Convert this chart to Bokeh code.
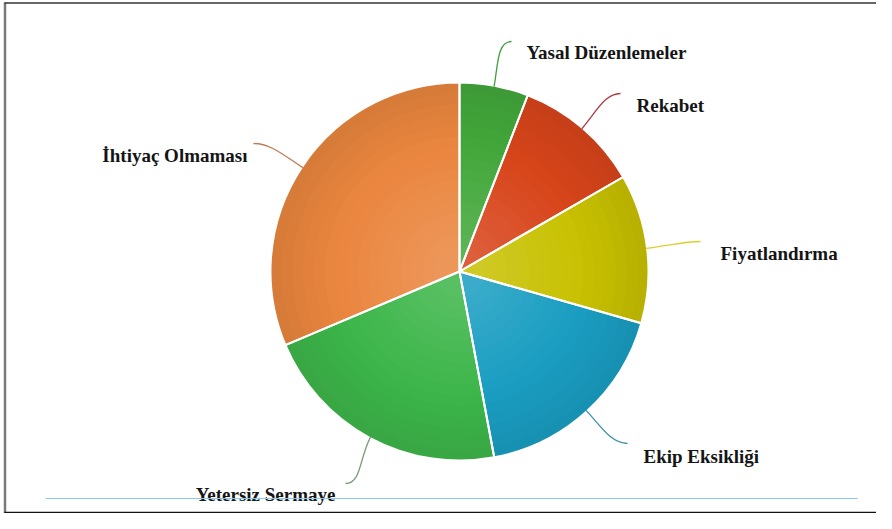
import math
from bokeh.plotting import figure
from bokeh.models import Range1d
from bokeh.core.properties import value
from bokeh.embed import file_html
from bokeh.resources import INLINE

# ---- data ----
categories = ["Yasal Düzenlemeler", "Rekabet", "Fiyatlandırma",
              "Ekip Eksikliği", "Yetersiz Sermaye", "İhtiyaç Olmaması"]
counts = [6, 11, 13, 18, 22, 32]

# ---- styles ----
base_colors = ["#43A83B", "#D8451B", "#C8C102", "#1A9EC2", "#3DB64A", "#EA863F"]
leader_colors = ["#3E9E3A", "#B03A40", "#D9D030", "#3A8FA8", "#7E9C7C", "#C07A50"]

W, H = 876, 513


def sy(y):
    """picture y (from top) -> data y"""
    return H - y


p = figure(width=W, height=H, x_range=Range1d(0, W), y_range=Range1d(0, H),
           output_backend="svg", toolbar_location=None, min_border=0,
           x_axis_location=None, y_axis_location=None, background_fill_color="white",
           border_fill_color="white", outline_line_color=None)
p.grid.visible = False

# layout of the pie (picture pixels)
CX, CY, R = 459, 271, 189


def shade(hexc, f):
    r, g, b = int(hexc[1:3], 16), int(hexc[3:5], 16), int(hexc[5:7], 16)
    if f >= 0:
        r, g, b = r + (255 - r) * f, g + (255 - g) * f, b + (255 - b) * f
    else:
        r, g, b = r * (1 + f), g * (1 + f), b * (1 + f)
    return "#%02x%02x%02x" % (int(r), int(g), int(b))


total = float(sum(counts))
cum = 0.0
starts, ends, mids = [], [], []
for c in counts:
    a0 = 360.0 * cum / total
    cum += c
    a1 = 360.0 * cum / total
    starts.append(math.radians(90 - a1))
    ends.append(math.radians(90 - a0))
    mids.append(math.radians(90 - (a0 + a1) / 2))

# radial shading: darker at rim, lighter toward centre
NL = 16
for k in range(NL):
    rr = R * (1 - k / NL * 0.92)
    t = k / (NL - 1)
    cols = [shade(c, -0.08 + 0.22 * t) for c in base_colors]
    p.wedge(x=[CX] * len(counts), y=[sy(CY)] * len(counts), radius=rr,
            start_angle=starts, end_angle=ends, direction="anticlock",
            fill_color=cols, line_color=None)

# white separators
p.wedge(x=[CX] * len(counts), y=[sy(CY)] * len(counts), radius=R,
        start_angle=starts, end_angle=ends, direction="anticlock",
        fill_color=None, line_color="white", line_width=2)

# leader lines (end points in picture pixels) and labels
leader_end = [(511, 41), (620, 93), (700, 241), (627, 443), (345, 483), (253, 143)]
label_pos = [(526, 52), (636, 105), (720, 253), (643, 456), (335, 494), (247, 155)]
label_align = ["left", "left", "left", "left", "right", "right"]

for i, m in enumerate(mids):
    sx0 = CX + (R - 1) * math.cos(m)
    sy0 = sy(CY) + (R - 1) * math.sin(m)
    ex, ey = leader_end[i][0], sy(leader_end[i][1])
    d = math.hypot(ex - sx0, ey - sy0)
    hdir = 1 if ex > CX else -1
    c0x = sx0 + math.cos(m) * d * 0.45
    c0y = sy0 + math.sin(m) * d * 0.45
    c1x = ex - hdir * d * 0.3
    c1y = ey
    p.bezier(x0=[sx0], y0=[sy0], x1=[ex], y1=[ey], cx0=[c0x], cy0=[c0y],
             cx1=[c1x], cy1=[c1y], line_color=leader_colors[i], line_width=1.3)

for i, name in enumerate(categories):
    p.text(x=[label_pos[i][0]], y=[sy(label_pos[i][1])], text=[name],
           text_font=value("Liberation Serif"), text_font_style="bold",
           text_font_size="19px", text_color="#151515",
           text_align=label_align[i], text_baseline="alphabetic")

# light blue rule under the chart
p.line(x=[45, 857], y=[sy(498), sy(498)], line_color="#86C8F0", line_width=1.2)

# frame
p.line(x=[4.5, 4.5], y=[sy(2), sy(513)], line_color="#7a7a7a", line_width=2.5)
p.line(x=[4, W], y=[sy(2.5), sy(2.5)], line_color="#333333", line_width=1.4)
p.line(x=[4, W], y=[sy(512), sy(512)], line_color="#111111", line_width=1.6)

open("out.html", "w").write(file_html(p, INLINE))
